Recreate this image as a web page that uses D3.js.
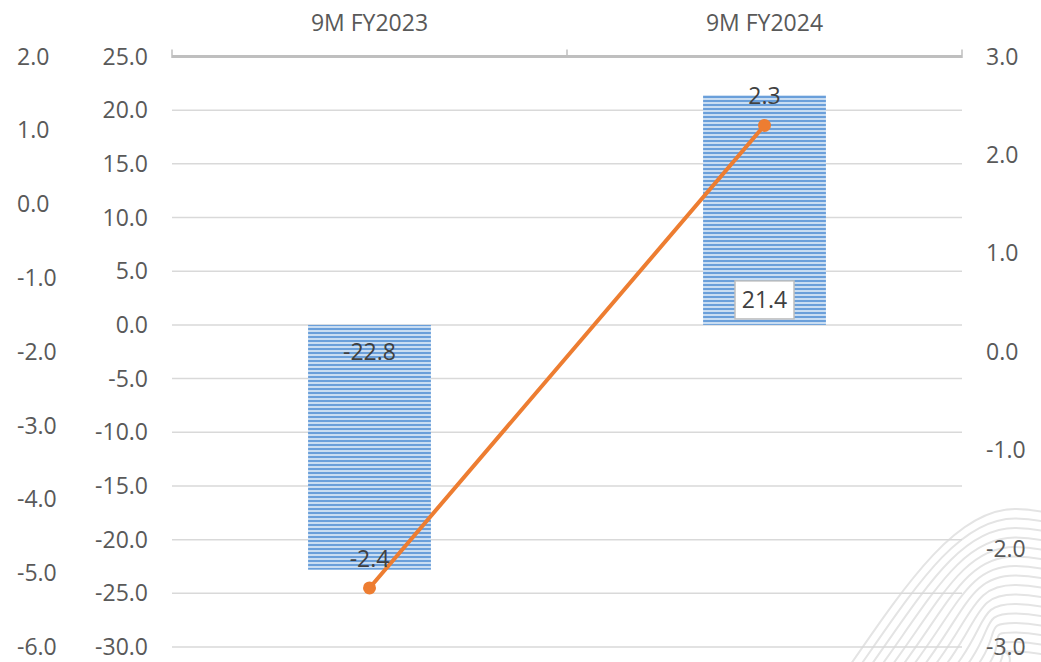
<!DOCTYPE html>
<html>
<head>
<meta charset="utf-8">
<script src="https://cdn.jsdelivr.net/npm/d3@7"></script>
<style>
  html, body { margin: 0; padding: 0; background: #ffffff; }
  svg { display: block; }
  text { font-family: "Open Sans", "Noto Sans", sans-serif; }
</style>
</head>
<body>
<svg id="chart" width="1041" height="662"></svg>
<script>
// Categories and series
const categories = ["9M FY2023", "9M FY2024"];
const barValues = [-22.8, 21.4];     // primary axis (bars)
const lineValues = [-2.4, 2.3];      // secondary axis (line)

// Axis domains and tick steps
const primaryDomain = [-30, 25];
const primaryStep = 5;
const secondaryDomain = [-3, 3];
const secondaryStep = 1;
const outerDomain = [-6, 2];
const outerStep = 1;

const W = 1041, H = 662;
const plot = { left: 172, right: 962, top: 56.5, bottom: 647 };

const svg = d3.select("#chart");
const fmt = v => (Math.abs(v) < 1e-9 ? 0 : v).toFixed(1);
const ticksOf = (dom, step) => d3.range(dom[0], dom[1] + step / 2, step);

const x = d3.scaleBand().domain(categories).range([plot.left, plot.right]).padding(0);
const y = d3.scaleLinear().domain(primaryDomain).range([plot.bottom, plot.top]);
const y2 = d3.scaleLinear().domain(secondaryDomain).range([plot.bottom, plot.top]);
const y3 = d3.scaleLinear().domain(outerDomain).range([plot.bottom, plot.top]);

// Stripe pattern for the bars
const defs = svg.append("defs");
const pat = defs.append("pattern")
  .attr("id", "stripes").attr("patternUnits", "userSpaceOnUse")
  .attr("width", 8).attr("height", 4);
pat.append("rect").attr("width", 8).attr("height", 4).attr("fill", "#c9ddf2");
pat.append("rect").attr("width", 8).attr("height", 2).attr("fill", "#6a9fda");

// Decorative wave lines in the lower-right corner
const deco = svg.append("g").attr("fill", "none").attr("stroke", "#e4e4e4").attr("stroke-width", 2);
for (let i = 0; i < 16; i++) {
  const py = 509 + i * 9.5;
  const sx = 846 + i * 10;
  const p = d3.path();
  p.moveTo(sx - 20, 700);
  p.bezierCurveTo(sx + 50, 600 + i * 3, 950 + i * 2, py, 1015, py);
  p.bezierCurveTo(1040, py, 1060, py + 6, 1080, py + 14);
  deco.append("path").attr("d", p.toString());
}

// Gridlines
svg.append("g").selectAll("line")
  .data(ticksOf(primaryDomain, primaryStep).filter(v => v !== primaryDomain[1]))
  .join("line")
  .attr("x1", plot.left).attr("x2", plot.right)
  .attr("y1", d => y(d)).attr("y2", d => y(d))
  .attr("stroke", "#d9d9d9").attr("stroke-width", 1.5);

// Category axis along the top
const topAxis = svg.append("g");
topAxis.append("line")
  .attr("x1", plot.left).attr("x2", plot.right)
  .attr("y1", plot.top).attr("y2", plot.top)
  .attr("stroke", "#bfbfbf").attr("stroke-width", 3);
const tickXs = [plot.left, ...categories.slice(1).map(c => x(c)), plot.right];
topAxis.selectAll("line.tick").data(tickXs).join("line")
  .attr("class", "tick")
  .attr("x1", d => d).attr("x2", d => d)
  .attr("y1", plot.top + 1.5).attr("y2", plot.top - 7)
  .attr("stroke", "#bfbfbf").attr("stroke-width", 1.5);
topAxis.selectAll("text").data(categories).join("text")
  .attr("x", d => x(d) + x.bandwidth() / 2)
  .attr("y", 22.5)
  .attr("dy", "0.35em")
  .attr("text-anchor", "middle")
  .attr("font-size", 23)
  .attr("fill", "#595959")
  .text(d => d);

// Outer left axis
svg.append("g").selectAll("text").data(ticksOf(outerDomain, outerStep)).join("text")
  .attr("x", 17).attr("y", d => y3(d)).attr("dy", "0.35em")
  .attr("text-anchor", "start").attr("font-size", 23).attr("fill", "#595959")
  .text(fmt);

// Primary axis labels
svg.append("g").selectAll("text").data(ticksOf(primaryDomain, primaryStep)).join("text")
  .attr("x", 148).attr("y", d => y(d)).attr("dy", "0.35em")
  .attr("text-anchor", "end").attr("font-size", 23).attr("fill", "#595959")
  .text(fmt);

// Secondary axis labels
svg.append("g").selectAll("text").data(ticksOf(secondaryDomain, secondaryStep)).join("text")
  .attr("x", 986).attr("y", d => y2(d)).attr("dy", "0.35em")
  .attr("text-anchor", "start").attr("font-size", 23).attr("fill", "#595959")
  .text(fmt);

// Bars
const barW = x.bandwidth() * 0.311;
const cx = c => x(c) + x.bandwidth() / 2;
const bars = categories.map((c, i) => ({ c, v: barValues[i] }));
svg.append("g").selectAll("rect").data(bars).join("rect")
  .attr("x", d => cx(d.c) - barW / 2)
  .attr("width", barW)
  .attr("y", d => y(Math.max(0, d.v)))
  .attr("height", d => Math.abs(y(d.v) - y(0)))
  .attr("fill", "url(#stripes)");

// Bar labels near the base
const barLabels = svg.append("g");
bars.forEach(d => {
  const ly = d.v < 0 ? y(0) + 27 : y(0) - 25;
  if (d.v > 0) {
    barLabels.append("rect")
      .attr("x", cx(d.c) - 29.5).attr("y", ly - 19)
      .attr("width", 59).attr("height", 38)
      .attr("fill", "#ffffff").attr("stroke", "#bfbfbf").attr("stroke-width", 1.5);
  }
  barLabels.append("text")
    .attr("x", cx(d.c)).attr("y", ly).attr("dy", "0.35em")
    .attr("text-anchor", "middle").attr("font-size", 23).attr("fill", "#404040")
    .text(fmt(d.v));
});

// Line series on the secondary axis
const pts = categories.map((c, i) => ({ c, v: lineValues[i] }));
svg.append("path").datum(pts)
  .attr("fill", "none").attr("stroke", "#ed7d31").attr("stroke-width", 4)
  .attr("stroke-linecap", "round")
  .attr("d", d3.line().x(d => cx(d.c)).y(d => y2(d.v)));
svg.append("g").selectAll("circle").data(pts).join("circle")
  .attr("cx", d => cx(d.c)).attr("cy", d => y2(d.v)).attr("r", 6.5)
  .attr("fill", "#ed7d31");
svg.append("g").selectAll("text").data(pts).join("text")
  .attr("x", d => cx(d.c)).attr("y", d => y2(d.v) - 29).attr("dy", "0.35em")
  .attr("text-anchor", "middle").attr("font-size", 23).attr("fill", "#404040")
  .text(d => fmt(d.v));
</script>
</body>
</html>
